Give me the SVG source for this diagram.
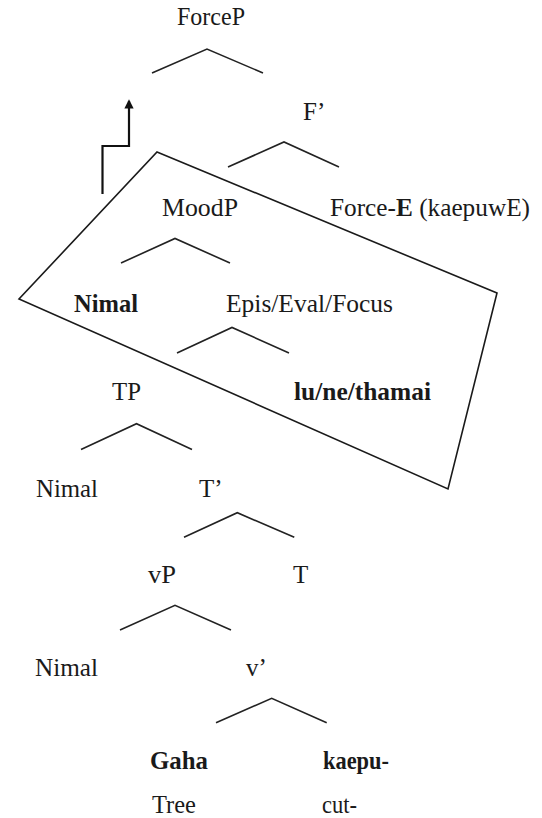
<svg xmlns="http://www.w3.org/2000/svg" width="542" height="818" viewBox="0 0 542 818">
<defs>
<style>
text{font-family:'Liberation Serif',Tinos,'Times New Roman','DejaVu Serif','Noto Serif',serif;font-size:25px;fill:#1a1a1a}
.b{font-weight:bold}
.br{fill:none;stroke:#222;stroke-width:1.6;stroke-linejoin:miter}
.box{fill:none;stroke:#1a1a1a;stroke-width:1.6;stroke-linejoin:miter}
.arr{fill:none;stroke:#111;stroke-width:2.2}
</style>
<marker id="ah" viewBox="0 0 10 10" refX="8" refY="5" markerWidth="4.5" markerHeight="4.2" orient="auto" markerUnits="strokeWidth">
<path d="M0,0 L10,5 L0,10 z" fill="#111"/>
</marker>
</defs>
<rect width="542" height="818" fill="#fff"/>
<g id="connectors">
<polyline class="br" points="152,73 207,49 263,73"/>
<polyline class="br" points="228,167 284,142 339,167"/>
<polyline class="br" points="121,263 175,238.5 230,263"/>
<polyline class="br" points="177,353 232,327.5 289,353"/>
<polyline class="br" points="81,449.5 136.5,423.7 192,449.5"/>
<polyline class="br" points="184,537.3 237.3,512.7 294.3,537.3"/>
<polyline class="br" points="120,630 175,605.3 231,630"/>
<polyline class="br" points="216,722.7 271.7,698.3 326.7,722.7"/>
<polygon id="box" class="box" points="157,152 497,293 448,489 19,299"/>
<polyline class="arr" points="102.5,194 102.5,146 129,146 129,101" marker-end="url(#ah)"/>
</g>
<g font-family="Liberation Serif, Tinos, Times New Roman, DejaVu Serif, serif">
<g id="n-forcep"><text x="177" y="25" textLength="68" lengthAdjust="spacingAndGlyphs">ForceP</text></g>
<g id="n-fbar"><text x="303" y="120">F’</text></g>
<g id="n-moodp"><text x="162" y="216" textLength="76" lengthAdjust="spacingAndGlyphs">MoodP</text></g>
<g id="n-force-e"><text x="330" y="216" textLength="200" lengthAdjust="spacingAndGlyphs">Force-<tspan class="b">E</tspan> (kaepuwE)</text></g>
<g id="n-nimal-spec"><text class="b" x="74" y="312" textLength="64" lengthAdjust="spacingAndGlyphs">Nimal</text></g>
<g id="n-epis"><text x="226" y="312" textLength="167" lengthAdjust="spacingAndGlyphs">Epis/Eval/Focus</text></g>
<g id="n-tp"><text x="112" y="400" textLength="29" lengthAdjust="spacingAndGlyphs">TP</text></g>
<g id="n-lu"><text class="b" x="294" y="400" textLength="137" lengthAdjust="spacingAndGlyphs">lu/ne/thamai</text></g>
<g id="n-nimal-tp"><text x="36" y="497" textLength="62" lengthAdjust="spacingAndGlyphs">Nimal</text></g>
<g id="n-tbar"><text x="199" y="497">T’</text></g>
<g id="n-vp"><text x="148" y="583" textLength="28" lengthAdjust="spacingAndGlyphs">vP</text></g>
<g id="n-t"><text x="293" y="583">T</text></g>
<g id="n-nimal-vp"><text x="35" y="676" textLength="63" lengthAdjust="spacingAndGlyphs">Nimal</text></g>
<g id="n-vbar"><text x="246" y="676">v’</text></g>
<g id="n-gaha"><text class="b" x="150" y="769" textLength="58" lengthAdjust="spacingAndGlyphs">Gaha</text></g>
<g id="n-kaepu"><text class="b" x="323" y="769" textLength="66" lengthAdjust="spacingAndGlyphs">kaepu-</text></g>
<g id="n-tree"><text x="152" y="813" textLength="44" lengthAdjust="spacingAndGlyphs">Tree</text></g>
<g id="n-cut"><text x="322" y="813" textLength="35" lengthAdjust="spacingAndGlyphs">cut-</text></g>
</g>
</svg>
